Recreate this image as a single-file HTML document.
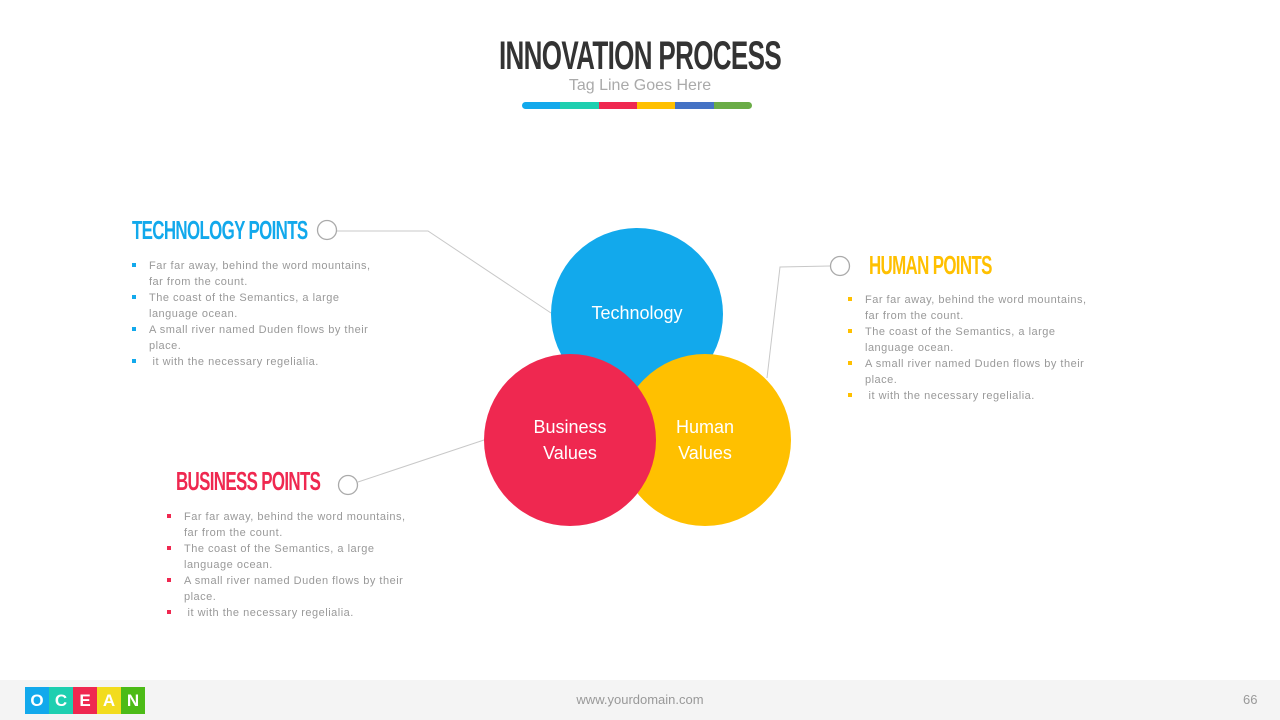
<!DOCTYPE html>
<html><head><meta charset="utf-8"><style>
*{margin:0;padding:0;box-sizing:border-box}
body{width:1280px;height:720px;background:#fff;position:relative;overflow:hidden;font-family:"Liberation Sans",sans-serif}
.a{position:absolute}
.title{left:0;width:1280px;top:34px;text-align:center;font-family:"Liberation Sans Narrow","Liberation Sans",sans-serif;font-weight:bold;font-size:40px;color:#333;letter-spacing:-1px;transform:scaleX(0.65)}
.tag{left:0;width:1280px;top:77px;text-align:center;font-size:16px;color:#aaa}
.h{font-family:"Liberation Sans Narrow","Liberation Sans",sans-serif;font-weight:bold;font-size:26px;letter-spacing:-1px;transform-origin:left top;transform:scaleX(0.65);white-space:nowrap}
ul{list-style:none;font-size:11px;line-height:16px;color:#999;letter-spacing:0.5px}
li{position:relative;padding-left:17px}
li:before{content:"";position:absolute;left:0;top:5px;width:4px;height:4px;background:var(--c)}
.ct{color:#fff;font-size:18px;text-align:center;line-height:26px}
</style></head><body>
<div class="a title">INNOVATION PROCESS</div>
<div class="a tag">Tag Line Goes Here</div>
<div class="a" style="left:522px;top:102px;width:230px;height:7px;border-radius:4px;overflow:hidden;display:flex">
<div style="flex:1;background:#12a9ec"></div><div style="flex:1;background:#1ecfb0"></div><div style="flex:1;background:#ef2850"></div><div style="flex:1;background:#ffc000"></div><div style="flex:1;background:#4472c4"></div><div style="flex:1;background:#6aac46"></div></div>

<svg class="a" style="left:0;top:0" width="1280" height="720">
<polyline points="337,231 428,231 551,313" fill="none" stroke="#c8c8c8" stroke-width="1"/>
<polyline points="830,266 780,267 767,378" fill="none" stroke="#c8c8c8" stroke-width="1"/>
<polyline points="358,482 484,440" fill="none" stroke="#c8c8c8" stroke-width="1"/>
<circle cx="327" cy="230" r="9.5" fill="#fff" stroke="#aaa" stroke-width="1.3"/>
<circle cx="840" cy="266" r="9.5" fill="#fff" stroke="#aaa" stroke-width="1.3"/>
<circle cx="348" cy="485" r="9.5" fill="#fff" stroke="#aaa" stroke-width="1.3"/>
<circle cx="637" cy="314" r="86" fill="#12a9ec"/>
<circle cx="705" cy="440" r="86" fill="#ffc000"/>
<circle cx="570" cy="440" r="86" fill="#ef2850"/>
</svg>
<div class="a ct" style="left:567px;top:300px;width:140px">Technology</div>
<div class="a ct" style="left:500px;top:414px;width:140px">Business<br>Values</div>
<div class="a ct" style="left:635px;top:414px;width:140px">Human<br>Values</div>

<div class="a h" style="left:132px;top:215px;color:#12a9ec">TECHNOLOGY POINTS</div>
<ul class="a" style="left:132px;top:258px;width:250px;--c:#12a9ec">
<li>Far far away, behind the word mountains, far from the count.</li>
<li>The coast of the Semantics, a large language ocean.</li>
<li>A small river named Duden flows by their place.</li>
<li>&nbsp;it with the necessary regelialia.</li></ul>

<div class="a h" style="left:869px;top:250px;color:#ffc000">HUMAN POINTS</div>
<ul class="a" style="left:848px;top:292px;width:250px;--c:#ffc000">
<li>Far far away, behind the word mountains, far from the count.</li>
<li>The coast of the Semantics, a large language ocean.</li>
<li>A small river named Duden flows by their place.</li>
<li>&nbsp;it with the necessary regelialia.</li></ul>

<div class="a h" style="left:176px;top:466px;color:#ef2850">BUSINESS POINTS</div>
<ul class="a" style="left:167px;top:509px;width:250px;--c:#ef2850">
<li>Far far away, behind the word mountains, far from the count.</li>
<li>The coast of the Semantics, a large language ocean.</li>
<li>A small river named Duden flows by their place.</li>
<li>&nbsp;it with the necessary regelialia.</li></ul>

<div class="a" style="left:0;top:680px;width:1280px;height:40px;background:#f4f4f4"></div>
<div class="a" style="left:25px;top:687px;display:flex;font-weight:bold;font-size:17px;color:#fff;line-height:27px;text-align:center">
<div style="width:24px;background:#12a9ec">O</div><div style="width:24px;background:#1ecfb0">C</div><div style="width:24px;background:#ef2850">E</div><div style="width:24px;background:#f2dc1e">A</div><div style="width:24px;background:#4cbb17">N</div></div>
<div class="a" style="left:0;width:1280px;top:692px;text-align:center;font-size:13px;color:#999">www.yourdomain.com</div>
<div class="a" style="left:1243px;top:692px;font-size:13px;color:#999">66</div>
</body></html>
